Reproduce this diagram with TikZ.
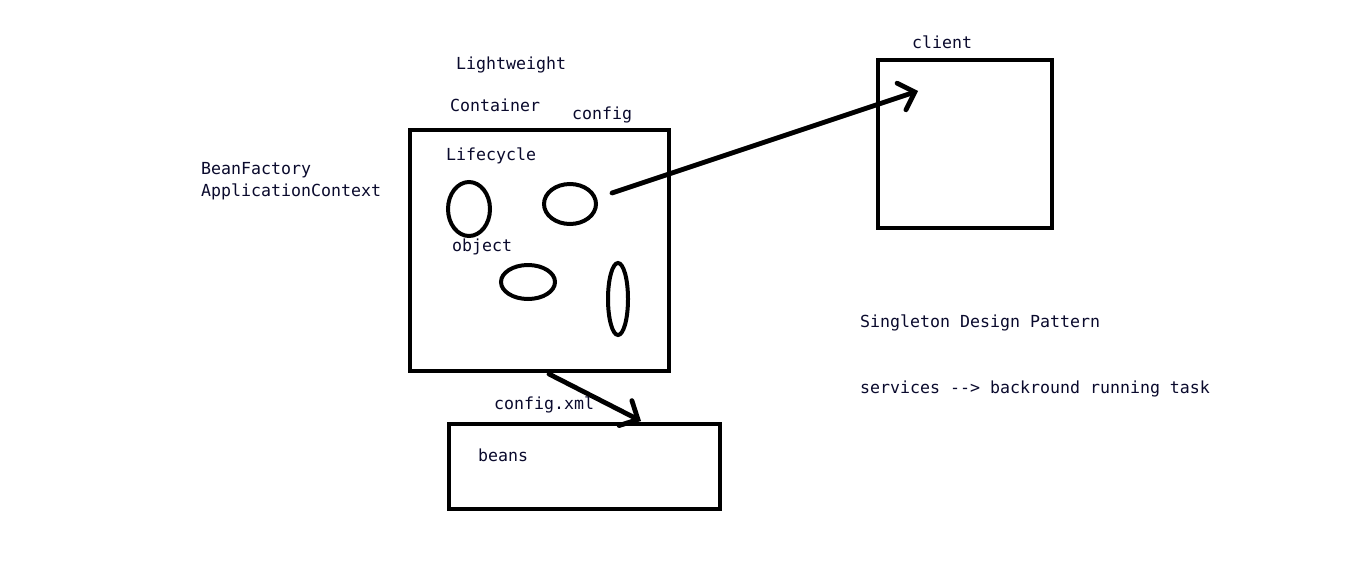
\documentclass[tikz,border=0pt]{standalone}
\usepackage{fontspec}
\setmonofont{DejaVu Sans Mono}
\usetikzlibrary{shapes.geometric,arrows.meta}
\definecolor{txt}{RGB}{10,10,45}
\tikzset{
  lbl/.style={anchor=base west,inner sep=0pt,text=txt,font=\ttfamily\fontsize{16.6}{20}\selectfont},
  box/.style={draw=black,line width=4.8pt,rectangle,inner sep=0pt},
  blob/.style={draw=black,line width=4pt,ellipse,inner sep=0pt},
  conn/.style={draw=black,line width=4.8pt,line cap=round,-{Straight Barb[length=14pt,width=28pt,line cap=round]}}
}
\begin{document}
\begin{tikzpicture}[x=1pt,y=-1pt]
\useasboundingbox[fill=white] (0,0) rectangle (1360,568);
% boxes
\node[box,minimum width=259pt,minimum height=241pt] (main) at (539.5,250.5) {};
\node[box,minimum width=174pt,minimum height=168pt] (client) at (965,144) {};
\node[box,minimum width=271pt,minimum height=85pt] (beans) at (584.5,466.5) {};
% ellipses
\node[blob,minimum width=42pt,minimum height=54pt] (e1) at (469,209) {};
\node[blob,minimum width=52pt,minimum height=40pt] (e2) at (570,204) {};
\node[blob,minimum width=54pt,minimum height=34pt] (e3) at (528,282) {};
\node[blob,minimum width=20pt,minimum height=72pt] (e4) at (618,299) {};
% labels
\node[lbl] (lw) at (456,69) {Lightweight};
\node[lbl] (cont) at (450,111) {Container};
\node[lbl] (cfg) at (572,119) {config};
\node[lbl] (life) at (446,160) {Lifecycle};
\node[lbl] (bf) at (201,174) {BeanFactory};
\node[lbl] (ac) at (201,196) {ApplicationContext};
\node[lbl] (obj) at (452,251) {object};
\node[lbl] (cl) at (912,48) {client};
\node[lbl] (cxml) at (494,409) {config.xml};
\node[lbl] (bn) at (478,461) {beans};
\node[lbl] (sing) at (860,327) {Singleton Design Pattern};
\node[lbl] (serv) at (860,393) {services --> backround running task};
% connectors
\coordinate (a1s) at (612,193);
\coordinate (a1e) at (918,91);
\coordinate (a2s) at (549,374);
\coordinate (a2e) at (641,421);
\draw[conn] (a1s) -- (a1e);
\draw[conn] (a2s) -- (a2e);
\end{tikzpicture}
\end{document}
